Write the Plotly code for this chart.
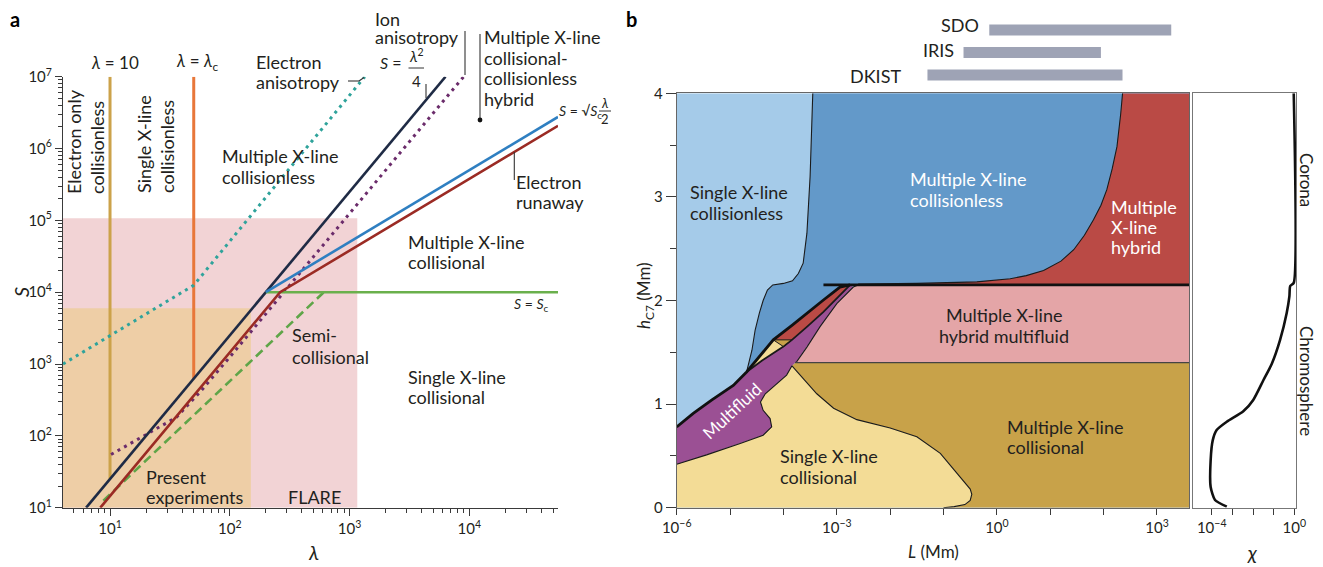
import numpy as np
import plotly.graph_objects as go

W, H = 1323, 567
OFF = 8  # page body margin of the browser
FONT = "Lato"
INK = "#231f20"
AX = "#3a3a3a"


def px(x):
    return (x - OFF) / W


def py(y):
    return 1 - (y - OFF) / H


# ---------------- panel a data (lambda, S) ----------------
LAM_MIN, LAM_MAX = 4.05, 5.5e4
S_MIN, S_MAX = 10, 1e7

flare_lam = [LAM_MIN, 1160, 1160, LAM_MIN]
flare_S = [S_MIN, S_MIN, 1.07e5, 1.07e5]
present_lam = [LAM_MIN, 150, 150, LAM_MIN]
present_S = [S_MIN, S_MIN, 6000, 6000]

lam10_lam, lam10_S = [10, 10], [25, 1e7]
lamc_lam, lamc_S = [50, 50], [625, 1e7]
sweet_lam, sweet_S = [6.32, 6325], [10, 1e7]
plasmoid_lam, plasmoid_S = [200, 5.5e4], [1e4, 2.75e6]
runaway_lam, runaway_S = [8.3, 263, 5.5e4], [10, 1e4, 2.07e6]
sc_lam, sc_S = [200, 5.5e4], [1e4, 1e4]
semi_lam, semi_S = [8.8, 610], [12.5, 1e4]
ion_lam = [10.2, 20.3, 36, 56.6, 100, 9000]
ion_S = [55, 107, 182, 410, 1250, 1.01e7]
elec_lam = [4.05, 50, 1340]
elec_S = [1000, 1.25e4, 1e7]

# ---------------- panel b data (log10 L [Mm], h [Mm]) ----------------
LOGL_MIN, LOGL_MAX = -6.0, 3.6
H_TOP = 4.0
H_COR = 2.15
H_MF = 1.40

# light blue / blue boundary (top -> bottom)
bedge_logL = [-3.45, -3.5, -3.56, -3.63, -3.72, -3.83, -4.0, -4.2, -4.3, -4.38, -4.45, -4.53, -4.59, -4.65, -4.69]
bedge_h = [4.0, 3.2, 2.65, 2.36, 2.26, 2.19, 2.165, 2.15, 2.10, 2.0, 1.88, 1.715, 1.52, 1.38, 1.31]
# thick boundary line (left -> right)
T_logL = [-6.0, -5.69, -5.34, -4.94, -4.69, -4.45, -4.19, -3.84, -3.56, -3.25, -2.94, -2.75]
T_h = [0.78, 0.91, 1.04, 1.18, 1.31, 1.46, 1.62, 1.76, 1.88, 2.005, 2.13, 2.15]
# multifluid top boundary (left -> right)
P_logL = [-4.69, -4.4, -4.0, -3.84, -3.55, -3.25, -3.0, -2.75]
P_h = [1.31, 1.42, 1.555, 1.62, 1.75, 1.89, 2.02, 2.15]
# blue / red (hybrid) boundary (top -> bottom)
redge_logL = [2.355, 2.32, 2.25, 2.16, 2.06, 1.95, 1.81, 1.64, 1.44, 1.2, 0.875, 0.55, 0.25, -0.375, -1.5, -2.6]
redge_h = [4.0, 3.8, 3.485, 3.27, 3.07, 2.92, 2.78, 2.63, 2.49, 2.38, 2.29, 2.24, 2.21, 2.18, 2.165, 2.158]
# hybrid multifluid left boundary (bottom -> top)
pk_logL = [-3.78, -3.75, -3.56, -3.31, -3.0, -2.69, -2.6]
pk_h = [1.40, 1.41, 1.55, 1.75, 1.97, 2.13, 2.15]
# multifluid lower boundary (left -> right)
pl_logL = [-6.0, -5.44, -4.81, -4.38, -4.22, -4.25, -4.38, -4.43, -4.34, -4.125, -3.94, -3.84]
pl_h = [0.42, 0.51, 0.62, 0.70, 0.78, 0.86, 0.94, 1.02, 1.10, 1.20, 1.28, 1.37]
# single X-line collisional right boundary (top -> bottom)
yr_logL = [-3.84, -3.69, -3.375, -3.06, -2.625, -2.0, -1.5, -1.06, -0.75, -0.6, -0.5, -0.47, -0.5, -0.6, -0.8, -1.0]
yr_h = [1.37, 1.28, 1.10, 0.96, 0.85, 0.77, 0.685, 0.525, 0.33, 0.24, 0.18, 0.13, 0.07, 0.03, 0.01, 0.0]
# small tan piece
tan_logL = [-4.19, -3.84, -4.0]
tan_h = [1.62, 1.62, 1.555]

# ionization fraction chi (log10) vs height
chi_log = [-0.03, -0.03, -0.2, -0.24, -0.37, -0.69, -1.09, -1.50, -1.99, -2.47, -3.27, -3.76, -3.95, -4.05, -4.05, -3.84, -3.27]
chi_h = [4.0, 2.17, 2.14, 2.04, 1.88, 1.62, 1.39, 1.23, 1.04, 0.93, 0.83, 0.75, 0.65, 0.46, 0.20, 0.074, 0.01]
CHI_MIN, CHI_MAX = -4.89, 0.08

# instruments (L range in Mm)
instr_names = ["SDO", "IRIS", "DKIST"]
instr_L = [[0.72, 1850], [0.237, 89], [0.05, 226]]
instr_row = [3, 2, 1]

# colours
C_LBLUE = "#a5cbe9"
C_BLUE = "#6399c9"
C_RED = "#ba4a45"
C_PINK = "#e4a5a7"
C_GOLD = "#c8a249"
C_YEL = "#f3dc96"
C_PURP = "#9b5094"

fig = go.Figure()


def poly(x, y, color, xa="x2", ya="y2", log_x=True):
    xv = 10 ** np.array(x, dtype=float) if log_x else x
    fig.add_trace(go.Scatter(x=xv, y=y, mode="lines", fill="toself", fillcolor=color,
                             line=dict(width=0, color=color), xaxis=xa, yaxis=ya,
                             hoverinfo="skip", showlegend=False))


def line(x, y, color, width, xa="x2", ya="y2", dash=None, log_x=True, shape="linear"):
    xv = 10 ** np.array(x, dtype=float) if log_x else x
    fig.add_trace(go.Scatter(x=xv, y=y, mode="lines",
                             line=dict(width=width, color=color, dash=dash, shape=shape),
                             xaxis=xa, yaxis=ya, hoverinfo="skip", showlegend=False))


# ---------------- panel a traces ----------------
poly(flare_lam, flare_S, "#f2d3d5", "x", "y", log_x=False)
poly(present_lam, present_S, "#eecea6", "x", "y", log_x=False)
line(lam10_lam, lam10_S, "#cca24a", 3, "x", "y", log_x=False)
line(lamc_lam, lamc_S, "#e8773a", 3, "x", "y", log_x=False)
line(elec_lam, elec_S, "#2fa39b", 3, "x", "y", dash="3px,4.5px", log_x=False)
line(ion_lam, ion_S, "#6b2c6b", 3, "x", "y", dash="3px,4.5px", log_x=False)
line(semi_lam, semi_S, "#5fa548", 2.6, "x", "y", dash="9px,5px", log_x=False)
line(sweet_lam, sweet_S, "#1f2b45", 2.6, "x", "y", log_x=False)
line(sc_lam, sc_S, "#6ab04c", 2.6, "x", "y", log_x=False)
line(plasmoid_lam, plasmoid_S, "#2f7fc1", 2.6, "x", "y", log_x=False)
line(runaway_lam, runaway_S, "#9b2b24", 2.6, "x", "y", log_x=False)

# ---------------- panel b traces ----------------
poly([LOGL_MIN, LOGL_MAX, LOGL_MAX, LOGL_MIN], [0, 0, H_TOP, H_TOP], C_LBLUE)
# multiple X-line collisionless
poly(bedge_logL + T_logL[4:] + [LOGL_MAX, LOGL_MAX],
     bedge_h + T_h[4:] + [H_COR, H_TOP], C_BLUE)
# multiple X-line hybrid (incl. wedge)
poly(redge_logL + T_logL[::-1][:7] + [-3.84] + P_logL[4:] + [LOGL_MAX, LOGL_MAX],
     redge_h + T_h[::-1][:7] + [1.62] + P_h[4:] + [H_COR, H_TOP], C_RED)
# hybrid multifluid
poly(pk_logL + [LOGL_MAX, LOGL_MAX], pk_h + [H_COR, H_MF], C_PINK)
# multiple X-line collisional
poly(yr_logL[::-1] + [-3.78, LOGL_MAX, LOGL_MAX], yr_h[::-1] + [H_MF, H_MF, 0], C_GOLD)
poly(tan_logL, tan_h, C_GOLD)
# single X-line collisional
poly([LOGL_MIN] + pl_logL + yr_logL[1:], [0] + pl_h + yr_h[1:], C_YEL)
poly(T_logL[4:7] + [-4.0] + P_logL[:2][::-1], T_h[4:7] + [1.555] + P_h[:2][::-1], C_YEL)
# multifluid
poly(T_logL[:5] + P_logL[1:] + pk_logL[::-1][1:] + [-3.84] + pl_logL[::-1][1:],
     T_h[:5] + P_h[1:] + pk_h[::-1][1:] + [1.37] + pl_h[::-1][1:], C_PURP)

# outlines
OUT = "#1a1a1a"
line(bedge_logL, bedge_h, OUT, 1.1)
line(redge_logL, redge_h, OUT, 1.1)
line(pk_logL, pk_h, OUT, 1.1)
line(pl_logL, pl_h, OUT, 1.1)
line(yr_logL, yr_h, OUT, 1.1)
line(tan_logL + [tan_logL[0]], tan_h + [tan_h[0]], OUT, 1.0)
line(P_logL, P_h, OUT, 1.8)
line([-3.78, LOGL_MAX], [H_MF, H_MF], "#444444", 1.3)
line(T_logL, T_h, "#111111", 2.8)
line([-3.25, LOGL_MAX], [H_COR, H_COR], "#111111", 2.8)

# chi profile
fig.add_trace(go.Scatter(x=10 ** np.array(chi_log), y=chi_h, mode="lines",
                         line=dict(color="#111111", width=2.6, shape="spline", smoothing=0.6),
                         xaxis="x3", yaxis="y3", hoverinfo="skip", showlegend=False))

# instruments
for name, Lr, row in zip(instr_names, instr_L, instr_row):
    fig.add_trace(go.Scatter(x=Lr, y=[row, row], mode="lines",
                             line=dict(color="#9ea3b5", width=11),
                             xaxis="x2", yaxis="y4", hoverinfo="skip", showlegend=False))

# ---------------- annotations ----------------
anns = []


def ann(text, x, y, size=18, color=INK, xanchor="left", yanchor="middle", angle=0, align="left"):
    anns.append(dict(text=text, x=px(x), y=py(y), xref="paper", yref="paper", showarrow=False,
                     font=dict(family=FONT, size=size, color=color), xanchor=xanchor,
                     yanchor=yanchor, textangle=angle, align=align, borderpad=0))


def lines(txts, x, y, dy=20.5, **kw):
    for i, t in enumerate(txts):
        ann(t, x, y + i * dy, **kw)


ann("<b>a</b>", 9, 19, size=20, color="#000")
ann("<b>b</b>", 625, 19, size=20, color="#000")

# panel a labels
ann("<i>λ</i> = 10", 115, 62, size=17, xanchor="center")
ann("<i>λ</i> = <i>λ</i><sub>c</sub>", 197, 62, size=17, xanchor="center")
ann("Electron only<br>collisionless", 85, 142, angle=-90, xanchor="center")
ann("Single X-line<br>collisionless", 155, 144, angle=-90, xanchor="center")
lines(["Electron", "anisotropy"], 255, 62, dy=19.5)
lines(["Multiple X-line", "collisionless"], 221, 156, dy=20.7)
lines(["Ion", "anisotropy"], 374, 19, dy=18)
lines(["Multiple X-line", "collisional-", "collisionless", "hybrid"], 483, 37, dy=20.7)
lines(["Electron", "runaway"], 515, 182, dy=20)
lines(["Multiple X-line", "collisional"], 407, 242, dy=20)
lines(["Semi-", "collisional"], 291, 335, dy=21.5)
lines(["Single X-line", "collisional"], 407, 377, dy=20)
lines(["Present", "experiments"], 145, 477, dy=20)
ann("FLARE", 287, 497)
# formulas
ann("<i>S</i> =", 403, 62, size=16, xanchor="right")
ann("<i>λ</i><sup>2</sup>", 416, 55, size=15, xanchor="center")
ann("4", 416, 81, size=15, xanchor="center")
ann("<i>S</i> = √<i>S</i><sub>c</sub>", 558, 111, size=14)
ann("<i>λ</i>", 605, 103, size=13, xanchor="center")
ann("2", 605, 119, size=13, xanchor="center")
ann("<i>S</i> = <i>S</i><sub>c</sub>", 513, 304, size=14)
# axis titles
ann("<i>S</i>", 21, 292, size=20, angle=-90, xanchor="center")
ann("<i>λ</i>", 313, 552, size=20, xanchor="center")

# panel b labels
ann("SDO", 980, 25, xanchor="right")
ann("IRIS", 955, 50, xanchor="right")
ann("DKIST", 902, 76, xanchor="right")
lines(["Single X-line", "collisionless"], 689, 192, dy=21)
lines(["Multiple X-line", "collisionless"], 909, 179, dy=21, color="#ffffff")
lines(["Multiple", "X-line", "hybrid"], 1110, 207, dy=20, color="#ffffff")
lines(["Multiple X-line", "hybrid multifluid"], 1004, 315, dy=21, xanchor="center")
lines(["Multiple X-line", "collisional"], 1006, 427, dy=20)
lines(["Single X-line", "collisional"], 779, 456, dy=21)
ann("Multifluid", 732, 410, size=17, color="#ffffff", angle=-43, xanchor="center")
ann("<i>h</i><sub>C7</sub> (Mm)", 645, 296, size=17, angle=-90, xanchor="center")
ann("<i>L</i> (Mm)", 933, 551, size=17, xanchor="center")
ann("<i>χ</i>", 1252, 552, size=20, xanchor="center")
ann("Corona", 1307, 180, size=17, angle=90, xanchor="center")
ann("Chromosphere", 1307, 381, size=17, angle=90, xanchor="center")

# leader lines (pixel positions)
shapes = []


def seg(x0, y0, x1, y1, w=1.1):
    shapes.append(dict(type="line", xref="paper", yref="paper", x0=px(x0), y0=py(y0),
                       x1=px(x1), y1=py(y1), line=dict(color="#333333", width=w)))


seg(348, 81, 359, 81)
seg(359, 81, 364, 77.5)
seg(426, 84, 426, 98)
seg(408.5, 68, 424, 68, 1)
seg(599, 111, 611, 111, 1)
seg(465, 31, 465, 75)
seg(480, 34, 480, 119)
seg(514.3, 152, 514.3, 180)
shapes.append(dict(type="circle", xref="paper", yref="paper", x0=px(477.6), x1=px(482.4),
                   y0=py(122.4), y1=py(117.6), fillcolor="#111", line=dict(width=0)))

# ---------------- axes ----------------
TF = dict(family=FONT, size=15, color=INK)


def sup(n):
    return "10<sup>" + str(n).replace("-", "−") + "</sup>"


def log_minor(lo, hi):
    return [m * 10 ** k for k in range(lo, hi) for m in range(2, 10)]


xa = dict(domain=[px(63), px(558)], type="log", range=[np.log10(LAM_MIN), np.log10(LAM_MAX)],
          anchor="y", showline=True, linecolor=AX, linewidth=1.2, ticks="outside", ticklen=7,
          tickwidth=1.1, tickcolor=AX, tickvals=[10, 100, 1000, 10000],
          ticktext=[sup(1), sup(2), sup(3), sup(4)], tickfont=TF, showgrid=False, zeroline=False,
          automargin=False,
          minor=dict(tickvals=log_minor(0, 5), ticks="outside", ticklen=4, tickcolor=AX, showgrid=False))
ya = dict(domain=[py(507.7), py(76.7)], type="log", range=[1, 7], anchor="x", showline=True,
          linecolor=AX, linewidth=1.2, ticks="outside", ticklen=7, tickwidth=1.1, tickcolor=AX,
          tickvals=[10 ** k for k in range(1, 8)], ticktext=[sup(k) for k in range(1, 8)],
          tickfont=TF, showgrid=False, zeroline=False, automargin=False,
          minor=dict(tickvals=log_minor(1, 7), ticks="outside", ticklen=4, tickcolor=AX, showgrid=False))

xb = dict(domain=[px(676.7), px(1189)], type="log", range=[LOGL_MIN, LOGL_MAX], anchor="y2",
          showline=True, mirror=True, linecolor="#666666", linewidth=1.2, ticks="outside", ticklen=6,
          tickwidth=1.1, tickcolor=AX, tickvals=[10.0 ** k for k in range(-6, 4)],
          ticktext=[sup(k) if k % 3 == 0 else "" for k in range(-6, 4)], tickfont=TF,
          showgrid=False, zeroline=False, automargin=False)
yb = dict(domain=[py(507.7), py(93.3)], range=[0, H_TOP], anchor="x2", showline=True, mirror=True,
          linecolor="#666666", linewidth=1.2, ticks="outside", ticklen=10, tickwidth=1.1, tickcolor=AX,
          tickvals=[0, 1, 2, 3, 4], tickfont=TF, showgrid=False, zeroline=False, automargin=False,
          minor=dict(tickvals=[0.5, 1.5, 2.5, 3.5], ticks="outside", ticklen=6, tickcolor=AX))
xc = dict(domain=[px(1193.3), px(1296)], type="log", range=[CHI_MIN, CHI_MAX], anchor="y3",
          showline=True, mirror=True, linecolor="#777777", linewidth=1.2, ticks="outside", ticklen=6,
          tickwidth=1.1, tickcolor=AX, tickvals=[1e-4, 1e-3, 1e-2, 1e-1, 1],
          ticktext=[sup(-4), "", "", "", sup(0)], tickfont=TF, showgrid=False, zeroline=False,
          automargin=False)
yc = dict(domain=[py(507.7), py(93.3)], range=[0, H_TOP], anchor="x3", showline=True, mirror=True,
          linecolor="#777777", linewidth=1.2, ticks="", showticklabels=False, showgrid=False,
          zeroline=False, automargin=False)
yd = dict(domain=[py(88), py(8)], range=[0.424, 3.98], anchor="x2", visible=False)

fig.update_layout(width=W, height=H, margin=dict(l=0, r=0, t=0, b=0, autoexpand=False),
                  paper_bgcolor="white", plot_bgcolor="rgba(0,0,0,0)",
                  xaxis=xa, yaxis=ya, xaxis2=xb, yaxis2=yb, xaxis3=xc, yaxis3=yc, yaxis4=yd,
                  annotations=anns, shapes=shapes, showlegend=False,
                  font=dict(family=FONT, color=INK))

fig.write_html("out.html")
